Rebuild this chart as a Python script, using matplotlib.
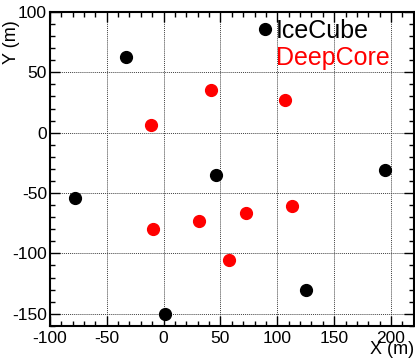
import numpy as np
import matplotlib
matplotlib.use("Agg")
import matplotlib.pyplot as plt
from matplotlib.lines import Line2D
from matplotlib.ticker import MultipleLocator

plt.rcParams['font.family'] = ['Liberation Sans', 'DejaVu Sans']
plt.rcParams['axes.unicode_minus'] = False

# string positions (m), top view
icecube_x = [-32.9, 46.3, -77.8, 194.3, 1.7, 125.5]
icecube_y = [62.4, -34.9, -54.3, -30.9, -150.6, -130.6]
deepcore_x = [31.3, 72.4, 41.6, 106.9, 113.2, 57.2, -9.7, -11.0]
deepcore_y = [-72.9, -66.6, 35.5, 27.1, -60.5, -105.5, -79.5, 6.7]

xlim = (-100, 220)
ylim = (-160, 100)

fig = plt.figure(figsize=(4.15, 3.62), dpi=100)
ax = fig.add_axes([0.120, 0.100, 0.877, 0.867])

ax.plot(icecube_x, icecube_y, 'o', color='black', markersize=8.5, zorder=3)
ax.plot(deepcore_x, deepcore_y, 'o', color='red', markersize=8.5, zorder=3)

ax.set_xlim(*xlim)
ax.set_ylim(*ylim)
ax.xaxis.set_major_locator(MultipleLocator(50))
ax.xaxis.set_minor_locator(MultipleLocator(10))
ax.yaxis.set_major_locator(MultipleLocator(50))
ax.yaxis.set_minor_locator(MultipleLocator(10))

ax.grid(True, which='major', color='0.25', linestyle=(0, (1, 1)), linewidth=0.7)
ax.tick_params(which='both', direction='in', top=True, right=True,
               labelsize=12.5, width=1.0, color='black')
ax.tick_params(which='major', length=7, pad=4)
ax.tick_params(which='minor', length=3.5)
ax.tick_params(axis='y', which='major', pad=2)
for sp in ax.spines.values():
    sp.set_linewidth(1.5)

ax.set_xlabel('X (m)', fontsize=13, loc='right')
ax.xaxis.set_label_coords(1.0, -0.05)
ax.set_ylabel('Y (m)', fontsize=13, loc='top')
ax.yaxis.set_label_coords(-0.082, 0.975)

handles = [Line2D([], [], marker='o', color='black', linestyle='none', markersize=8.5),
           Line2D([], [], marker='none', linestyle='none')]
leg = ax.legend(handles, ['IceCube', 'DeepCore'], loc='upper left',
                bbox_to_anchor=(0.57, 0.978), frameon=False, fontsize=18,
                handlelength=0.6, handletextpad=0.15, borderpad=0,
                labelspacing=0.12, borderaxespad=0)
leg.get_texts()[1].set_color('red')

fig.savefig('out.png', dpi=100)
